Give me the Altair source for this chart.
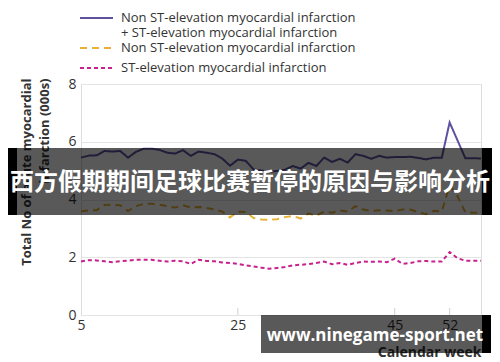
import altair as alt
import pandas as pd

weeks = list(range(5, 57))
total = [5.45, 5.52, 5.53, 5.68, 5.66, 5.68, 5.45, 5.65, 5.76, 5.76,
         5.72, 5.62, 5.59, 5.71, 5.51, 5.66, 5.62, 5.57, 5.42, 5.17,
         5.38, 5.34, 5.04, 5.00, 4.96, 4.99, 5.03, 5.16, 5.07, 5.27,
         5.16, 5.45, 5.30, 5.41, 5.28, 5.57, 5.51, 5.41, 5.51, 5.45,
         5.47, 5.47, 5.48, 5.44, 5.39, 5.45, 5.45, 6.67, 6.05, 5.43,
         5.43, 5.42]
nstemi = [3.59, 3.62, 3.63, 3.81, 3.82, 3.80, 3.60, 3.77, 3.85, 3.85,
          3.82, 3.77, 3.72, 3.80, 3.72, 3.74, 3.71, 3.66, 3.58, 3.38,
          3.58, 3.57, 3.36, 3.31, 3.30, 3.32, 3.39, 3.43, 3.34, 3.51,
          3.44, 3.58, 3.54, 3.62, 3.58, 3.77, 3.65, 3.60, 3.63, 3.62,
          3.60, 3.65, 3.65, 3.56, 3.49, 3.61, 3.59, 4.47, 4.12, 3.56,
          3.54, 3.54]
stemi = [1.85, 1.90, 1.89, 1.86, 1.83, 1.86, 1.88, 1.91, 1.91, 1.91,
         1.88, 1.85, 1.88, 1.86, 1.77, 1.91, 1.87, 1.86, 1.82, 1.80,
         1.77, 1.72, 1.68, 1.64, 1.60, 1.63, 1.66, 1.72, 1.74, 1.76,
         1.80, 1.85, 1.76, 1.80, 1.74, 1.80, 1.85, 1.84, 1.85, 1.83,
         1.95, 1.77, 1.80, 1.86, 1.87, 1.85, 1.85, 2.18, 1.97, 1.88,
         1.88, 1.88]

series = ["Total", "NSTEMI", "STEMI"]
colors = ["#5e51a0", "#e8b034", "#c8218e"]
dashes = [[1, 0], [7, 5], [4, 3]]
legend_labels = [
    ["Non ST-elevation myocardial infarction", "+ ST-elevation myocardial infarction"],
    ["Non ST-elevation myocardial infarction"],
    ["ST-elevation myocardial infarction"],
]
x_ticks = [5, 25, 45, 52]
y_ticks = [0, 2, 4, 6, 8]
banner_text = "西方假期期间足球比赛暂停的原因与影响分析"
watermark_text = "www.ninegame-sport.net"

FONT = "Open Sans"

rows = []
for name, vals in zip(series, [total, nstemi, stemi]):
    for w, v in zip(weeks, vals):
        rows.append({"week": w, "value": v, "series": name})
df = pd.DataFrame(rows)

xs = alt.Scale(domain=[5, 56], nice=False)
ys = alt.Scale(domain=[0, 8], nice=False)

lines = alt.Chart(df).mark_line(strokeWidth=2).encode(
    x=alt.X("week:Q", scale=xs,
            axis=alt.Axis(values=x_ticks, domain=False, ticks=False, grid=False,
                          labelFontSize=14, labelColor="#333", labelFont=FONT,
                          labelPadding=3, labelFlush=False,
                          title="Calendar week", titleAnchor="end",
                          titleFont=FONT, titleFontSize=14, titleFontWeight="bold",
                          titleColor="#333", titlePadding=13)),
    y=alt.Y("value:Q", scale=ys,
            axis=alt.Axis(values=y_ticks, domain=False, ticks=False, grid=True,
                          gridColor="#e4e4e4", gridWidth=1.2,
                          labelFontSize=14, labelColor="#333", labelFont=FONT,
                          labelPadding=5, labelFlush=False,
                          title=["Total No of acute myocardial", "infarction (000s)"],
                          titleAnchor="end", titleFont=FONT, titleFontSize=13,
                          titleFontWeight="bold", titleColor="#333",
                          titleLineHeight=18, titlePadding=16, titleY=-6)),
    color=alt.Color("series:N", scale=alt.Scale(domain=series, range=colors), legend=None),
    strokeDash=alt.StrokeDash("series:N", scale=alt.Scale(domain=series, range=dashes), legend=None),
    detail="series:N",
)

ticks = alt.Chart(pd.DataFrame({"week": x_ticks[1:]})).mark_rule(color="#d0d0d0", strokeWidth=1).encode(
    x=alt.X("week:Q", scale=xs),
    y=alt.value(224), y2=alt.value(231),
)

one = alt.Data(values=[{}])
legend_layers = []
sym_y = [-66, -36, -16]
for i, (c, d, labs) in enumerate(zip(colors, dashes, legend_labels)):
    legend_layers.append(
        alt.Chart(one).mark_rule(color=c, strokeWidth=2, strokeDash=d).encode(
            x=alt.value(-1), x2=alt.value(32), y=alt.value(sym_y[i])))
    for j, lab in enumerate(labs):
        legend_layers.append(
            alt.Chart(one).mark_text(text=lab, align="left", baseline="middle",
                                     font=FONT, fontSize=13, color="#333").encode(
                x=alt.value(40), y=alt.value(sym_y[i] + 15 * j)))

overlay = [
    alt.Chart(one).mark_rect(color="#000000").encode(
        x=alt.value(-81), x2=alt.value(-64), y=alt.value(64), y2=alt.value(131)),
    alt.Chart(one).mark_rect(color="#000000", opacity=0.65).encode(
        x=alt.value(-64), x2=alt.value(401), y=alt.value(64), y2=alt.value(131)),
    alt.Chart(one).mark_rect(color="#000000").encode(
        x=alt.value(401), x2=alt.value(419), y=alt.value(64), y2=alt.value(131)),
    alt.Chart(one).mark_text(text=banner_text, align="center", baseline="middle",
                             font="Noto Sans CJK SC", fontSize=24, fontWeight="bold",
                             color="white").encode(x=alt.value(169), y=alt.value(99)),
    alt.Chart(one).mark_rect(color="#000000", opacity=0.65).encode(
        x=alt.value(180), x2=alt.value(401), y=alt.value(231), y2=alt.value(269)),
    alt.Chart(one).mark_rect(color="#000000").encode(
        x=alt.value(401), x2=alt.value(410), y=alt.value(231), y2=alt.value(269)),
    alt.Chart(one).mark_text(text=watermark_text, align="center", baseline="middle",
                             font=FONT, fontSize=17, fontWeight="bold",
                             color="white").encode(x=alt.value(294), y=alt.value(252)),
]

chart = alt.layer(lines, ticks, *legend_layers, *overlay).properties(
    width=400, height=231,
    padding={"left": 73, "top": 76, "right": 11, "bottom": 47},
    autosize=alt.AutoSizeParams(type="none"),
).configure_view(
    stroke="#d9d9d9", strokeWidth=1.5, cornerRadius=7,
).configure(background="white")

chart.save("out.html", embed_options={"renderer": "svg", "actions": False})
